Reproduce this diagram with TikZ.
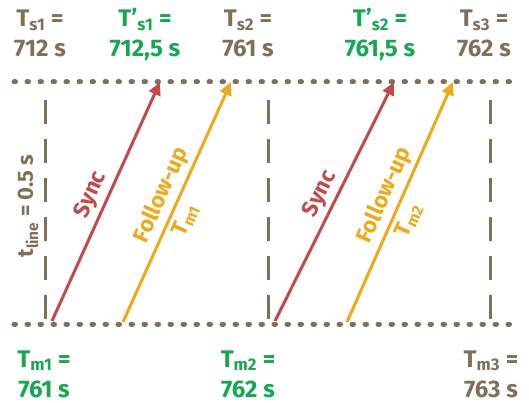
\documentclass[tikz,border=0pt]{standalone}
\usepackage{fontspec}
\setmainfont{Fira Sans}
\usetikzlibrary{arrows.meta, positioning}

\definecolor{taupe}{HTML}{7F7159}
\definecolor{leaf}{HTML}{16A850}
\definecolor{brick}{HTML}{C24A4C}
\definecolor{amber}{HTML}{EEA918}

\begin{document}
\begin{tikzpicture}[x=1pt, y=-1pt,
    lbl/.style={align=center, anchor=base, inner sep=0pt,
        font=\bfseries\fontsize{24}{30}\selectfont},
    dotline/.style={taupe, line width=5pt, line cap=round, dash pattern=on 1.5pt off 11.5pt},
    tick/.style={taupe, line width=3pt, dash pattern=on 24pt off 15pt},
    msg/.style={line width=3pt, -{Triangle[length=13pt, width=12pt]}},
    tag/.style={sloped, inner sep=4pt, font=\bfseries\fontsize{22.5}{24}\selectfont}]
    \useasboundingbox (0,0) rectangle (529,403);

    % time lines of slave (top) and master (bottom)
    \coordinate (tl) at (14,82);
    \coordinate (tr) at (516,82);
    \coordinate (bl) at (14,324);
    \coordinate (br) at (518,324);
    \draw[dotline] (tl) -- (tr);
    \draw[dotline] (bl) -- (br);

    % one second marks
    \draw[tick] (45,100) -- (45,322);
    \draw[tick] (268,100) -- (268,322);
    \draw[tick] (490,100) -- (490,322);

    % slave times
    \node[lbl, taupe] (ts1) at (40,57) {T\textsubscript{s1} =\\712 s};
    \node[lbl, leaf] (ts1p) at (145,57) {T’\textsubscript{s1} =\\712,5 s};
    \node[lbl, taupe] (ts2) at (248,57) {T\textsubscript{s2} =\\761 s};
    \node[lbl, leaf] (ts2p) at (380,57) {T’\textsubscript{s2} =\\761,5 s};
    \node[lbl, taupe] (ts3) at (484,57) {T\textsubscript{s3} =\\762 s};

    % master times
    \node[lbl, leaf] (tm1) at (44,397) {T\textsubscript{m1} =\\761 s};
    \node[lbl, leaf] (tm2) at (248,397) {T\textsubscript{m2} =\\762 s};
    \node[lbl, taupe] (tm3) at (491,397) {T\textsubscript{m3} =\\763 s};

    \node[rotate=90, taupe, inner sep=0pt, font=\bfseries\fontsize{22}{24}\selectfont]
        (tline) at (28,206) {t\textsubscript{line} = 0.5 s};

    % messages
    \coordinate (s1a) at (52,321);
    \coordinate (s1b) at (160,82);
    \coordinate (f1a) at (123,322);
    \coordinate (f1b) at (231,82);
    \coordinate (s2a) at (275,321);
    \coordinate (s2b) at (394,82);
    \coordinate (f2a) at (347,322);
    \coordinate (f2b) at (453,82);

    \draw[msg, brick] (s1a) -- node[tag, above] (sync1) {Sync} (s1b);
    \draw[msg, amber] (f1a) -- node[tag, above] (fup1) {Follow-up}
        node[tag, below, pos=0.45] (fm1) {T\textsubscript{m1}} (f1b);
    \draw[msg, brick] (s2a) -- node[tag, above] (sync2) {Sync} (s2b);
    \draw[msg, amber] (f2a) -- node[tag, above] (fup2) {Follow-up}
        node[tag, below, pos=0.45] (fm2) {T\textsubscript{m2}} (f2b);
\end{tikzpicture}
\end{document}
